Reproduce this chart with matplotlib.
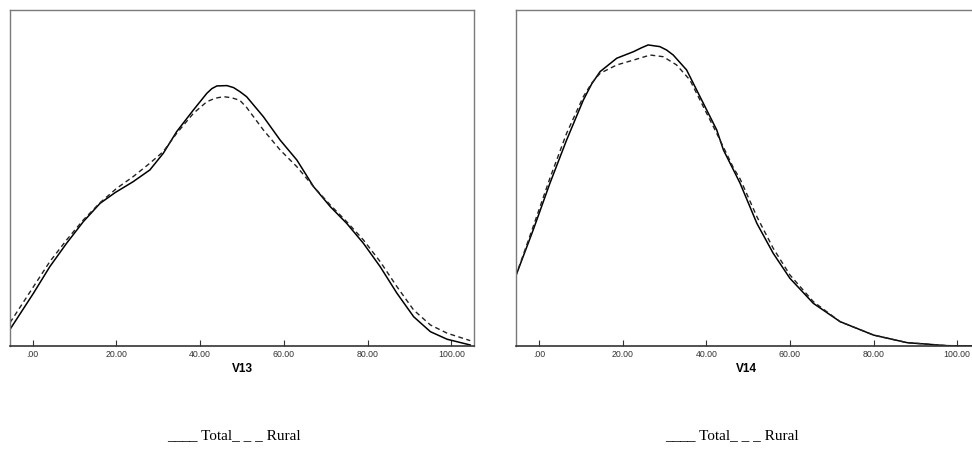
import numpy as np
import matplotlib.pyplot as plt

# density curves read per panel (x value, density)
v13_x_total = [-5.4, 0.2, 4.1, 8.1, 12.1, 16.1, 19.7, 24.0, 28.0, 31.2, 34.4, 38.4, 41.6, 42.8, 44.0, 46.4,
               48.0, 49.5, 51.1, 55.1, 59.1, 63.1, 67.1, 71.1, 75.0, 79.0, 83.0, 87.0, 91.0, 95.0, 99.0, 104.5]
v13_total = [0.00099, 0.00314, 0.00472, 0.00611, 0.00740, 0.00849, 0.00913, 0.00978, 0.01048, 0.01147,
             0.01276, 0.01405, 0.01504, 0.01532, 0.01548, 0.01550, 0.01538, 0.01514, 0.01484, 0.01365,
             0.01226, 0.01107, 0.00948, 0.00829, 0.00730, 0.00611, 0.00472, 0.00314, 0.00174, 0.00085,
             0.00040, 0.00006]
v13_x_rural = [-5.4, 0.2, 4.1, 8.1, 12.1, 16.1, 20.1, 24.0, 28.0, 31.2, 34.4, 38.4, 41.6, 43.6, 45.6, 47.5,
               49.5, 51.1, 55.1, 59.1, 63.1, 67.1, 71.1, 75.0, 79.0, 83.0, 87.0, 91.0, 95.0, 99.0, 104.5]
v13_rural = [0.00139, 0.00353, 0.00502, 0.00631, 0.00750, 0.00853, 0.00939, 0.01008, 0.01088, 0.01157,
             0.01266, 0.01385, 0.01454, 0.01475, 0.01484, 0.01478, 0.01462, 0.01420, 0.01286, 0.01167,
             0.01067, 0.00948, 0.00839, 0.00740, 0.00631, 0.00502, 0.00353, 0.00214, 0.00125, 0.00076,
             0.00032]

v14_x_total = [-5.6, -1.4, 2.6, 6.6, 10.6, 12.6, 14.6, 18.6, 22.6, 24.5, 26.1, 28.9, 30.5, 32.1, 35.3,
               38.5, 42.5, 44.1, 46.5, 48.1, 52.1, 56.0, 60.0, 65.6, 72.0, 80.0, 88.0, 97.5, 104.0]
v14_total = [0.00413, 0.00690, 0.00968, 0.01226, 0.01464, 0.01560, 0.01633, 0.01713, 0.01752, 0.01775,
             0.01792, 0.01782, 0.01762, 0.01732, 0.01643, 0.01484, 0.01286, 0.01167, 0.01048, 0.00968,
             0.00730, 0.00552, 0.00403, 0.00254, 0.00145, 0.00065, 0.00020, 0.00002, 0.0]
v14_x_rural = [-5.6, -1.4, 2.6, 6.6, 10.6, 12.6, 14.6, 18.6, 22.6, 26.6, 29.7, 32.9, 36.1, 38.5, 42.5,
               46.5, 48.1, 52.1, 56.0, 60.0, 65.6, 72.0, 80.0, 88.0, 97.5, 104.0]
v14_rural = [0.00413, 0.00710, 0.00998, 0.01266, 0.01484, 0.01565, 0.01623, 0.01673, 0.01702, 0.01732,
             0.01722, 0.01673, 0.01583, 0.01464, 0.01266, 0.01060, 0.00994, 0.00770, 0.00582, 0.00423,
             0.00264, 0.00145, 0.00065, 0.00020, 0.00002, 0.0]

ticks = [0, 20, 40, 60, 80, 100]
tick_labels = ['.00', '20.00', '40.00', '60.00', '80.00', '100.00']

fig = plt.figure(figsize=(9.72, 4.5), dpi=100)

def panel(rect, xlim, xt, yt, xr, yr, label):
    ax = fig.add_axes(rect)
    ax.plot(xt, yt, color='black', lw=1.1, solid_joinstyle='round')
    ax.plot(xr, yr, color='#222222', lw=1.0, ls=(0, (3.5, 2.5)))
    ax.set_xlim(*xlim)
    ax.set_ylim(0, 0.02)
    ax.set_yticks([])
    ax.set_xticks(ticks)
    ax.set_xticklabels(tick_labels, fontsize=6.3, family='Liberation Sans', color='#333333')
    ax.tick_params(axis='x', direction='in', length=4, width=0.8, pad=3, color='#333333')
    for s in ['top', 'right', 'left']:
        ax.spines[s].set_color('#7a7a7a')
        ax.spines[s].set_linewidth(1.0)
    ax.spines['bottom'].set_color('#333333')
    ax.spines['bottom'].set_linewidth(1.2)
    ax.set_xlabel(label, fontsize=8.5, fontweight='bold', family='Liberation Sans', labelpad=3)
    return ax

# left panel: axes from x=10 to 474 px, y=10 to 346 px
panel([10 / 972, 104 / 450, 464 / 972, 336 / 450], (-5.4, 105.4),
      v13_x_total, v13_total, v13_x_rural, v13_rural, 'V13')
# right panel runs past the right edge of the figure
panel([516 / 972, 104 / 450, 460 / 972, 336 / 450], (-5.5, 104.5),
      v14_x_total, v14_total, v14_x_rural, v14_rural, 'V14')

fig.text(234 / 972, 1 - 436 / 450, '____ Total_ _ _ Rural', ha='center', va='center',
         fontsize=11, family='Liberation Serif')
fig.text(732 / 972, 1 - 436 / 450, '____ Total_ _ _ Rural', ha='center', va='center',
         fontsize=11, family='Liberation Serif')

fig.savefig('out.png', dpi=100)
